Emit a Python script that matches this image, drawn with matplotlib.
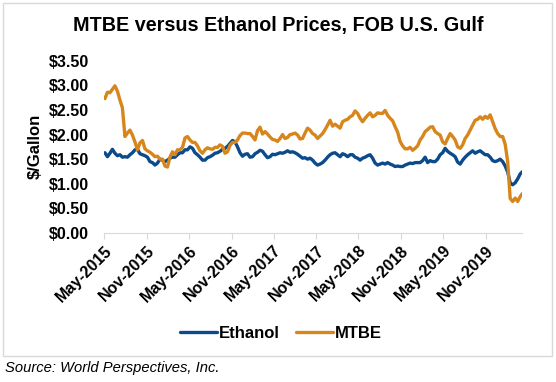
import numpy as np
import pandas as pd
import matplotlib
matplotlib.use("Agg")
import matplotlib.pyplot as plt
import matplotlib.dates as mdates
from matplotlib.patches import Rectangle

plt.rcParams['font.family'] = ['Liberation Sans', 'DejaVu Sans']

# weekly-ish readings, roughly every 11 days from early May 2015 to early April 2020
ethanol = [
    1.63, 1.55, 1.62, 1.70, 1.62, 1.57, 1.59, 1.54, 1.55, 1.54,
    1.59, 1.63, 1.69, 1.70, 1.61, 1.59, 1.57, 1.54, 1.45, 1.43,
    1.38, 1.42, 1.50, 1.48, 1.45, 1.48, 1.52, 1.54, 1.54, 1.59,
    1.63, 1.63, 1.69, 1.69, 1.75, 1.72, 1.63, 1.59, 1.54, 1.48,
    1.48, 1.53, 1.55, 1.58, 1.62, 1.63, 1.66, 1.70, 1.72, 1.76,
    1.82, 1.88, 1.85, 1.75, 1.63, 1.56, 1.60, 1.61, 1.54, 1.55,
    1.61, 1.64, 1.68, 1.66, 1.59, 1.53, 1.55, 1.60, 1.59, 1.61,
    1.63, 1.62, 1.64, 1.67, 1.64, 1.65, 1.63, 1.60, 1.56, 1.52,
    1.53, 1.50,
    1.52, 1.48, 1.42, 1.38, 1.40, 1.43, 1.48, 1.54, 1.59, 1.62,
    1.63, 1.59, 1.55, 1.61, 1.59, 1.55, 1.59, 1.59, 1.54, 1.52,
    1.48, 1.52, 1.54, 1.57, 1.59, 1.52, 1.42, 1.38, 1.40, 1.42,
    1.40, 1.43, 1.40, 1.38, 1.35, 1.36, 1.35, 1.35, 1.38, 1.40,
    1.42, 1.41,
    1.43, 1.43, 1.43, 1.47, 1.54, 1.43, 1.47, 1.45, 1.45, 1.50,
    1.59, 1.63, 1.72, 1.66, 1.62, 1.59, 1.55, 1.44, 1.40, 1.48,
    1.54, 1.59, 1.63, 1.67, 1.62, 1.65, 1.67, 1.63, 1.59, 1.59,
    1.54, 1.47, 1.45, 1.47, 1.50, 1.45, 1.36, 1.24, 1.02, 0.98,
    1.02, 1.10, 1.20, 1.25,
]
mtbe = [
    2.73, 2.86, 2.85, 2.92, 2.99, 2.88, 2.70, 2.54, 1.96, 2.03,
    2.09, 1.99, 1.85, 1.69, 1.83, 1.88, 1.71, 1.67, 1.64, 1.60,
    1.55, 1.56, 1.50, 1.50, 1.36, 1.34, 1.54, 1.65, 1.59, 1.69,
    1.69, 1.74, 1.93, 1.96, 1.89, 1.84, 1.84, 1.77, 1.67, 1.62,
    1.69, 1.73, 1.71, 1.70, 1.74, 1.74, 1.79, 1.76, 1.62, 1.65,
    1.78, 1.84, 1.84, 1.89, 1.98, 2.03, 2.03, 2.02, 2.02, 1.96,
    1.89, 2.08, 2.15, 2.01, 2.06, 2.01, 1.95, 1.90, 1.89, 1.86,
    1.92, 2.00, 1.92, 1.94, 2.00, 2.01, 2.03, 1.99, 1.91, 1.92,
    2.03, 2.13,
    2.09, 2.02, 1.99, 1.92, 1.97, 2.02, 2.10, 2.19, 2.29, 2.17,
    2.21, 2.17, 2.13, 2.26, 2.29, 2.31, 2.36, 2.39, 2.48, 2.43,
    2.33, 2.26, 2.33, 2.39, 2.44, 2.36, 2.39, 2.44, 2.43, 2.43,
    2.49, 2.39, 2.33, 2.28, 2.16, 2.05, 1.86, 1.77, 1.71, 1.71,
    1.74, 1.68,
    1.72, 1.77, 1.89, 1.96, 2.06, 2.10, 2.15, 2.16, 2.06, 2.02,
    1.99, 1.85, 1.81, 1.92, 2.02, 1.96, 1.89, 1.75, 1.72, 1.79,
    1.92, 1.99, 2.09, 2.19, 2.29, 2.31, 2.36, 2.31, 2.37, 2.33,
    2.40, 2.26, 2.12, 2.02, 1.96, 1.96, 1.80, 1.45, 0.70, 0.64,
    0.71, 0.64, 0.74, 0.81,
]
start, end = '2015-05-05', '2020-04-08'
dates = pd.date_range(start, end, periods=len(ethanol))

fig = plt.figure(figsize=(5.56, 3.82), dpi=100)
ax = fig.add_axes([104/556, 1 - 233/382, 418/556, (233 - 60.7)/382])

ax.plot(dates, ethanol, color='#0B4A8B', lw=2.4, label='Ethanol', solid_capstyle='round')
ax.plot(dates, mtbe, color='#D6861C', lw=2.4, label='MTBE', solid_capstyle='round')

ax.set_ylim(0, 3.5)
ax.set_yticks(np.arange(0, 3.51, 0.5))
ax.set_yticklabels(['${:.2f}'.format(v) for v in np.arange(0, 3.51, 0.5)],
                   fontsize=11.5, fontweight='bold')
ax.set_xlim(pd.Timestamp('2015-05-01'), pd.Timestamp('2020-04-05'))
ax.xaxis.set_major_locator(mdates.MonthLocator(bymonth=[5, 11]))
ax.xaxis.set_major_formatter(mdates.DateFormatter('%b-%Y'))
for lab in ax.get_xticklabels():
    lab.set_rotation(45)
    lab.set_ha('right')
    lab.set_rotation_mode('anchor')
    lab.set_fontsize(11.5)
    lab.set_fontweight('bold')

for s in ['top', 'right', 'left']:
    ax.spines[s].set_visible(False)
ax.spines['bottom'].set_color('#d9d9d9')
ax.spines['bottom'].set_linewidth(0.8)
ax.tick_params(axis='y', length=0, pad=11)
ax.tick_params(axis='x', length=4, color='#d9d9d9', width=0.8, pad=3)

ax.set_ylabel('$/Gallon', fontsize=12, fontweight='bold', labelpad=4)

fig.text(0.5, 1 - 25/382, 'MTBE versus Ethanol Prices, FOB U.S. Gulf',
         ha='center', va='center', fontsize=14.2, fontweight='bold')

fig.legend(loc='center', bbox_to_anchor=(0.505, 1 - 333/382), ncol=2,
           frameon=False, prop={'size': 12, 'weight': 'bold'},
           handlelength=2.2, handletextpad=0.1, columnspacing=1.0)

fig.patches.append(Rectangle((3/556, 1 - 356/382), 549/556, 353/382,
                             transform=fig.transFigure, fill=False,
                             edgecolor='#d9d9d9', lw=1))

fig.text(5/556, 1 - 368/382, 'Source: World Perspectives, Inc.',
         ha='left', va='center', fontsize=10.6, style='italic')

fig.savefig('out.png', dpi=100)
